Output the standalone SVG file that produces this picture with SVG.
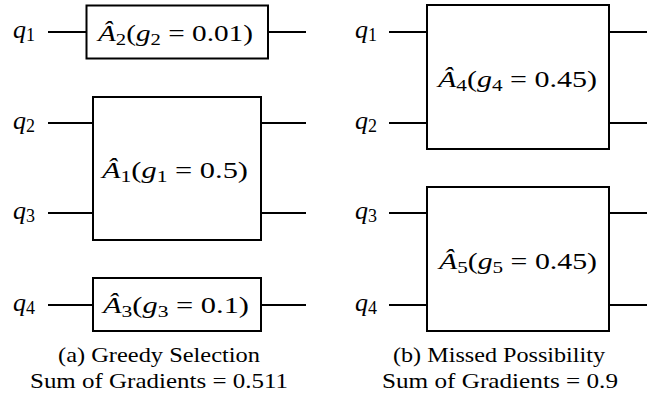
<svg xmlns="http://www.w3.org/2000/svg" width="662" height="405" viewBox="0 0 662 405">
<style>
.box{fill:#fff;stroke:#000;stroke-width:2}
.wire{stroke:#000;stroke-width:2;fill:none}
.math{font-family:"Liberation Serif",serif;font-size:24px;fill:#000}
.q{font-family:"Liberation Serif",serif;font-size:26px;fill:#000}
.it{font-style:italic}
.sub{font-size:17px}
.qs{font-size:18px}
.cap{font-family:"Liberation Serif",serif;font-size:22px;fill:#000}
</style>
<rect width="662" height="405" fill="#fff"/>
<g id="connectors">
<line class="wire" x1="48" y1="32" x2="86" y2="32"/>
<line class="wire" x1="268" y1="32" x2="306" y2="32"/>
<line class="wire" x1="48" y1="123" x2="93" y2="123"/>
<line class="wire" x1="261" y1="123" x2="306" y2="123"/>
<line class="wire" x1="48" y1="213" x2="93" y2="213"/>
<line class="wire" x1="261" y1="213" x2="306" y2="213"/>
<line class="wire" x1="48" y1="305" x2="93" y2="305"/>
<line class="wire" x1="261" y1="305" x2="306" y2="305"/>
<line class="wire" x1="389" y1="32" x2="427" y2="32"/>
<line class="wire" x1="609" y1="32" x2="647" y2="32"/>
<line class="wire" x1="389" y1="123" x2="427" y2="123"/>
<line class="wire" x1="609" y1="123" x2="647" y2="123"/>
<line class="wire" x1="389" y1="213" x2="427" y2="213"/>
<line class="wire" x1="609" y1="213" x2="647" y2="213"/>
<line class="wire" x1="389" y1="305" x2="427" y2="305"/>
<line class="wire" x1="609" y1="305" x2="647" y2="305"/>
</g>
<g id="qlabels-a">
<text class="q" font-family="Liberation Serif, serif" x="13" y="38"><tspan class="it">q</tspan><tspan class="qs" dy="3">1</tspan></text>
<text class="q" font-family="Liberation Serif, serif" x="13" y="129"><tspan class="it">q</tspan><tspan class="qs" dy="3">2</tspan></text>
<text class="q" font-family="Liberation Serif, serif" x="13" y="219"><tspan class="it">q</tspan><tspan class="qs" dy="3">3</tspan></text>
<text class="q" font-family="Liberation Serif, serif" x="13" y="311"><tspan class="it">q</tspan><tspan class="qs" dy="3">4</tspan></text>
</g>
<g id="qlabels-b">
<text class="q" font-family="Liberation Serif, serif" x="355" y="38"><tspan class="it">q</tspan><tspan class="qs" dy="3">1</tspan></text>
<text class="q" font-family="Liberation Serif, serif" x="355" y="129"><tspan class="it">q</tspan><tspan class="qs" dy="3">2</tspan></text>
<text class="q" font-family="Liberation Serif, serif" x="355" y="219"><tspan class="it">q</tspan><tspan class="qs" dy="3">3</tspan></text>
<text class="q" font-family="Liberation Serif, serif" x="355" y="311"><tspan class="it">q</tspan><tspan class="qs" dy="3">4</tspan></text>
</g>
<g id="A2">
<rect class="box" x="86.5" y="5.5" width="181.5" height="53"/>
<text class="math" font-family="Liberation Serif, serif" x="98" y="41" textLength="155" lengthAdjust="spacingAndGlyphs"><tspan class="it">Â</tspan><tspan class="sub" dy="4">2</tspan><tspan dy="-4">(</tspan><tspan class="it">g</tspan><tspan class="sub" dy="4">2</tspan><tspan dy="-4"> = 0.01)</tspan></text>
</g>
<g id="A1">
<rect class="box" x="93" y="97" width="168" height="143"/>
<text class="math" font-family="Liberation Serif, serif" x="102" y="178" textLength="146" lengthAdjust="spacingAndGlyphs"><tspan class="it">Â</tspan><tspan class="sub" dy="4">1</tspan><tspan dy="-4">(</tspan><tspan class="it">g</tspan><tspan class="sub" dy="4">1</tspan><tspan dy="-4"> = 0.5)</tspan></text>
</g>
<g id="A3">
<rect class="box" x="93" y="278" width="168" height="53"/>
<text class="math" font-family="Liberation Serif, serif" x="103" y="313" textLength="146" lengthAdjust="spacingAndGlyphs"><tspan class="it">Â</tspan><tspan class="sub" dy="4">3</tspan><tspan dy="-4">(</tspan><tspan class="it">g</tspan><tspan class="sub" dy="4">3</tspan><tspan dy="-4"> = 0.1)</tspan></text>
</g>
<g id="A4">
<rect class="box" x="427" y="5" width="182" height="144"/>
<text class="math" font-family="Liberation Serif, serif" x="438" y="87" textLength="159" lengthAdjust="spacingAndGlyphs"><tspan class="it">Â</tspan><tspan class="sub" dy="4">4</tspan><tspan dy="-4">(</tspan><tspan class="it">g</tspan><tspan class="sub" dy="4">4</tspan><tspan dy="-4"> = 0.45)</tspan></text>
</g>
<g id="A5">
<rect class="box" x="427" y="187" width="182" height="144"/>
<text class="math" font-family="Liberation Serif, serif" x="439" y="269" textLength="158" lengthAdjust="spacingAndGlyphs"><tspan class="it">Â</tspan><tspan class="sub" dy="4">5</tspan><tspan dy="-4">(</tspan><tspan class="it">g</tspan><tspan class="sub" dy="4">5</tspan><tspan dy="-4"> = 0.45)</tspan></text>
</g>
<g id="caption-a">
<text class="cap" font-family="Liberation Serif, serif" x="58" y="362" textLength="202" lengthAdjust="spacingAndGlyphs">(a) Greedy Selection</text>
<text class="cap" font-family="Liberation Serif, serif" x="30" y="388" textLength="258" lengthAdjust="spacingAndGlyphs">Sum of Gradients = 0.511</text>
</g>
<g id="caption-b">
<text class="cap" font-family="Liberation Serif, serif" x="393" y="362" textLength="212" lengthAdjust="spacingAndGlyphs">(b) Missed Possibility</text>
<text class="cap" font-family="Liberation Serif, serif" x="382" y="388" textLength="236" lengthAdjust="spacingAndGlyphs">Sum of Gradients = 0.9</text>
</g>
</svg>
